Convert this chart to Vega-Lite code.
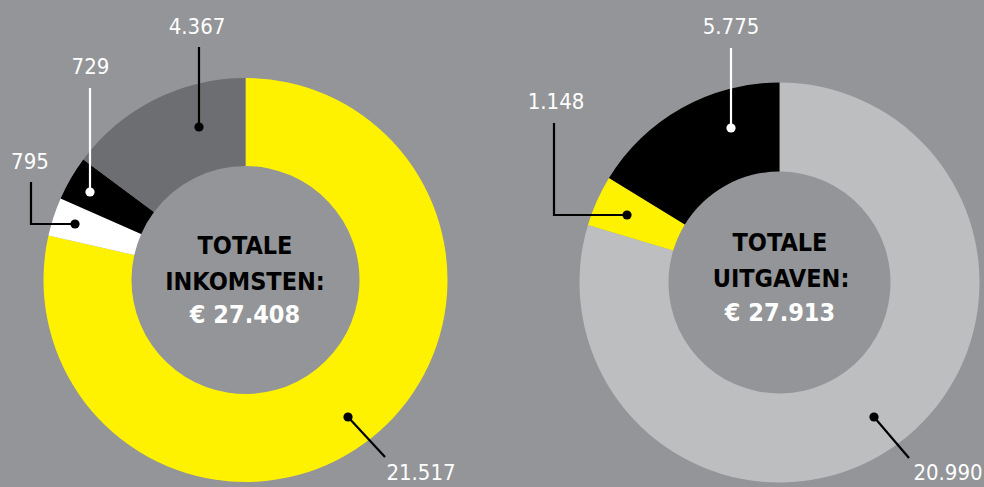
{
  "$schema": "https://vega.github.io/schema/vega-lite/v6.json",
  "width": 984,
  "height": 487,
  "autosize": {"type": "fit", "contains": "padding"},
  "padding": 0,
  "background": "#939598",
  "config": {"view": {"stroke": null}},
  "datasets": {
    "segmenten": [
      {"grafiek": "inkomsten", "segment": "I1", "volgorde": 1, "waarde": 21517, "hoek": 282.7, "x": 24.55, "y": 28.0},
      {"grafiek": "inkomsten", "segment": "I2", "volgorde": 2, "waarde": 795, "hoek": 11.1, "x": 24.55, "y": 28.0},
      {"grafiek": "inkomsten", "segment": "I3", "volgorde": 3, "waarde": 729, "hoek": 12.8, "x": 24.55, "y": 28.0},
      {"grafiek": "inkomsten", "segment": "I4", "volgorde": 4, "waarde": 4367, "hoek": 53.4, "x": 24.55, "y": 28.0},
      {"grafiek": "uitgaven", "segment": "U1", "volgorde": 1, "waarde": 20990, "hoek": 286.7, "x": 77.95, "y": 28.25},
      {"grafiek": "uitgaven", "segment": "U2", "volgorde": 2, "waarde": 1148, "hoek": 14.8, "x": 77.95, "y": 28.25},
      {"grafiek": "uitgaven", "segment": "U3", "volgorde": 3, "waarde": 5775, "hoek": 58.5, "x": 77.95, "y": 28.25}
    ],
    "labels": [
      {"tekst": "4.367", "x": 19.7, "y": 3.4},
      {"tekst": "729", "x": 9.05, "y": 7.4},
      {"tekst": "795", "x": 3.0, "y": 16.9},
      {"tekst": "21.517", "x": 42.1, "y": 48.0},
      {"tekst": "5.775", "x": 73.1, "y": 3.4},
      {"tekst": "1.148", "x": 55.6, "y": 10.9},
      {"tekst": "20.990", "x": 94.8, "y": 48.0}
    ],
    "midden": [
      {"tekst": "TOTALE", "soort": "kop", "x": 24.5, "y": 25.35},
      {"tekst": "INKOMSTEN:", "soort": "kop", "x": 24.5, "y": 29.0},
      {"tekst": "€ 27.408", "soort": "bedrag", "x": 24.5, "y": 32.3},
      {"tekst": "TOTALE", "soort": "kop", "x": 78.0, "y": 25.05},
      {"tekst": "UITGAVEN:", "soort": "kop", "x": 78.1, "y": 28.65},
      {"tekst": "€ 27.913", "soort": "bedrag", "x": 78.0, "y": 32.05}
    ],
    "lijnen": [
      {"id": "L1", "volgorde": 1, "toon": "donker", "x": 19.9, "y": 4.7, "stip": false},
      {"id": "L1", "volgorde": 2, "toon": "donker", "x": 19.9, "y": 12.7, "stip": true},
      {"id": "L2", "volgorde": 1, "toon": "licht", "x": 9.0, "y": 8.8, "stip": false},
      {"id": "L2", "volgorde": 2, "toon": "licht", "x": 9.0, "y": 19.2, "stip": true},
      {"id": "L3", "volgorde": 1, "toon": "donker", "x": 3.1, "y": 18.2, "stip": false},
      {"id": "L3", "volgorde": 2, "toon": "donker", "x": 3.1, "y": 22.4, "stip": false},
      {"id": "L3", "volgorde": 3, "toon": "donker", "x": 7.5, "y": 22.4, "stip": true},
      {"id": "L4", "volgorde": 1, "toon": "donker", "x": 38.5, "y": 45.7, "stip": false},
      {"id": "L4", "volgorde": 2, "toon": "donker", "x": 34.8, "y": 41.7, "stip": true},
      {"id": "R1", "volgorde": 1, "toon": "licht", "x": 73.1, "y": 4.8, "stip": false},
      {"id": "R1", "volgorde": 2, "toon": "licht", "x": 73.1, "y": 12.8, "stip": true},
      {"id": "R2", "volgorde": 1, "toon": "donker", "x": 55.4, "y": 12.3, "stip": false},
      {"id": "R2", "volgorde": 2, "toon": "donker", "x": 55.4, "y": 21.5, "stip": false},
      {"id": "R2", "volgorde": 3, "toon": "donker", "x": 62.7, "y": 21.5, "stip": true},
      {"id": "R3", "volgorde": 1, "toon": "donker", "x": 90.9, "y": 45.8, "stip": false},
      {"id": "R3", "volgorde": 2, "toon": "donker", "x": 87.4, "y": 41.7, "stip": true}
    ]
  },
  "encoding": {
    "x": {"field": "x", "type": "quantitative", "stack": null, "axis": null, "scale": {"domain": [0, 98.4], "nice": false, "zero": false}},
    "y": {"field": "y", "type": "quantitative", "stack": null, "axis": null, "scale": {"domain": [0, 48.7], "reverse": true, "nice": false, "zero": false}}
  },
  "layer": [
    {
      "data": {"name": "segmenten"},
      "transform": [
        {"filter": "datum.grafiek === 'inkomsten'"},
        {"stack": "hoek", "groupby": ["grafiek"], "sort": [{"field": "volgorde", "order": "ascending"}], "offset": "normalize", "as": ["t0", "t1"]}
      ],
      "mark": {"type": "arc", "radius": 202, "radius2": 114, "strokeWidth": 0},
      "encoding": {
        "theta": {"field": "t0", "type": "quantitative", "stack": null, "scale": {"domain": [0, 1], "range": [0, 6.283185307179586]}},
        "theta2": {"field": "t1"},
        "color": {"field": "segment", "type": "nominal", "legend": null, "scale": {"domain": ["I1", "I2", "I3", "I4", "U1", "U2", "U3"], "range": ["#FFF200", "#FFFFFF", "#000000", "#6D6E71", "#BCBEC0", "#FFF200", "#000000"]}}
      }
    },
    {
      "data": {"name": "segmenten"},
      "transform": [
        {"filter": "datum.grafiek === 'uitgaven'"},
        {"stack": "hoek", "groupby": ["grafiek"], "sort": [{"field": "volgorde", "order": "ascending"}], "offset": "normalize", "as": ["t0", "t1"]}
      ],
      "mark": {"type": "arc", "radius": 200, "radius2": 111, "strokeWidth": 0},
      "encoding": {
        "theta": {"field": "t0", "type": "quantitative", "stack": null, "scale": {"domain": [0, 1], "range": [0, 6.283185307179586]}},
        "theta2": {"field": "t1"},
        "color": {"field": "segment", "type": "nominal", "legend": null, "scale": {"domain": ["I1", "I2", "I3", "I4", "U1", "U2", "U3"], "range": ["#FFF200", "#FFFFFF", "#000000", "#6D6E71", "#BCBEC0", "#FFF200", "#000000"]}}
      }
    },
    {
      "data": {"name": "lijnen"},
      "mark": {"type": "line", "strokeWidth": 2.2, "strokeCap": "butt", "strokeJoin": "miter"},
      "encoding": {
        "detail": {"field": "id"},
        "order": {"field": "volgorde"},
        "stroke": {"field": "toon", "type": "nominal", "legend": null, "scale": {"domain": ["donker", "licht"], "range": ["#000000", "#FFFFFF"]}}
      }
    },
    {
      "data": {"name": "lijnen"},
      "transform": [{"filter": "datum.stip"}],
      "mark": {"type": "point", "filled": true, "shape": "circle", "size": 85, "opacity": 1, "strokeWidth": 0},
      "encoding": {
        "fill": {"field": "toon", "type": "nominal", "legend": null, "scale": {"domain": ["donker", "licht"], "range": ["#000000", "#FFFFFF"]}}
      }
    },
    {
      "data": {"name": "labels"},
      "mark": {"type": "text", "align": "center", "baseline": "alphabetic", "font": "'DejaVu Sans Condensed', 'DejaVu Sans', sans-serif", "fontSize": 22, "fontWeight": "normal", "fill": "#FFFFFF"},
      "encoding": {"text": {"field": "tekst"}}
    },
    {
      "data": {"name": "midden"},
      "transform": [{"filter": "datum.soort === 'kop'"}],
      "mark": {"type": "text", "align": "center", "baseline": "alphabetic", "font": "'DejaVu Sans Condensed', 'DejaVu Sans', sans-serif", "fontSize": 25, "fontWeight": "bold", "fill": "#000000"},
      "encoding": {"text": {"field": "tekst"}}
    },
    {
      "data": {"name": "midden"},
      "transform": [{"filter": "datum.soort === 'bedrag'"}],
      "mark": {"type": "text", "align": "center", "baseline": "alphabetic", "font": "'DejaVu Sans Condensed', 'DejaVu Sans', sans-serif", "fontSize": 25, "fontWeight": "bold", "fill": "#FFFFFF"},
      "encoding": {"text": {"field": "tekst"}}
    }
  ],
  "resolve": {"scale": {"color": "independent", "fill": "independent", "stroke": "independent"}}
}
